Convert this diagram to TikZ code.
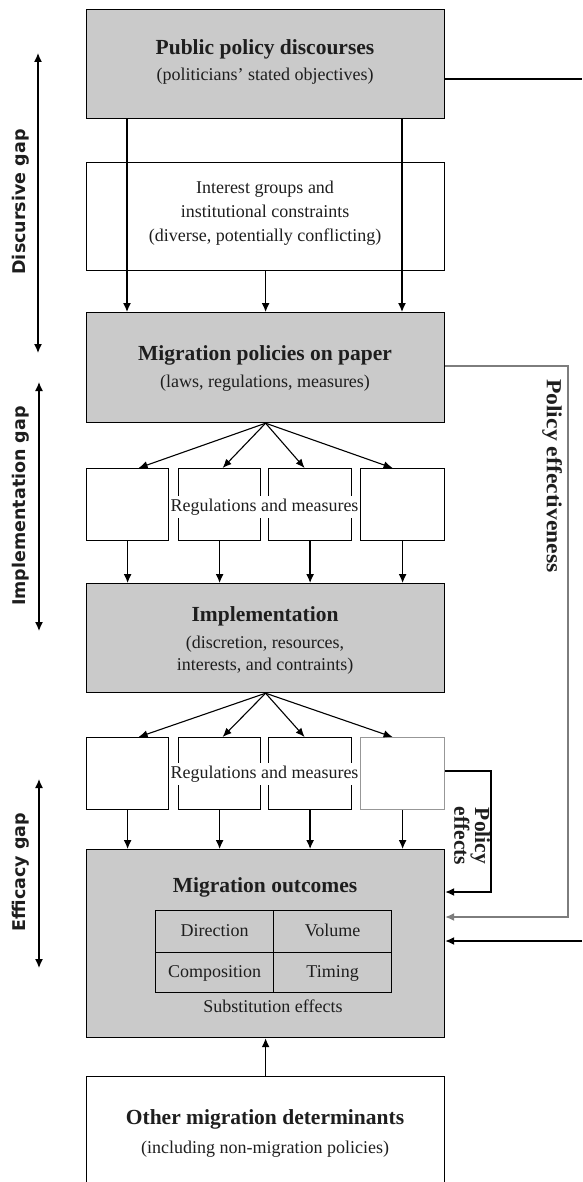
\documentclass[tikz,border=0pt]{standalone}
\usepackage{fontspec}
\setmainfont{Liberation Serif}
\newfontfamily\gapfont{DejaVu Sans}
\usetikzlibrary{arrows.meta,calc}
\definecolor{boxgray}{RGB}{202,202,202}
\definecolor{txt}{RGB}{30,30,30}
\definecolor{lgray}{RGB}{125,125,125}
\begin{document}
\begin{tikzpicture}[x=1pt,y=-1pt,
  gbox/.style={draw, fill=boxgray, line width=1.2pt, inner sep=0, anchor=north west},
  wbox/.style={draw, fill=white, line width=1.2pt, inner sep=0, anchor=north west},
  tcell/.style={draw, line width=1.2pt, inner sep=0, anchor=north west},
  tr/.style={font=\fontsize{18}{22}\selectfont, text=txt, anchor=base, inner sep=0},
  tb/.style={font=\fontsize{21.5}{26}\selectfont\bfseries, text=txt, anchor=base, inner sep=0},
  gaplbl/.style={font=\gapfont\fontsize{17.5}{20}\selectfont\bfseries, text=txt, rotate=90, inner sep=0},
  arr/.style={line width=1.3pt, -{Latex[length=9pt,width=8pt]}},
  fanarr/.style={line width=1.1pt, -{Latex[length=9pt,width=7.5pt]}},
  dbl/.style={line width=1.3pt, {Latex[length=9pt,width=8pt]}-{Latex[length=9pt,width=8pt]}},
  plain/.style={line width=1.3pt}]
\useasboundingbox (0,0) rectangle (582,1182);
\clip (0,0) rectangle (582,1182);

% boxes
\node[gbox, minimum width=358pt, minimum height=109pt] (disc) at (86,9) {};
\node[wbox, minimum width=358pt, minimum height=108pt] (inter) at (86,162) {};
\node[gbox, minimum width=358pt, minimum height=110pt] (paper) at (86,312) {};
\node[wbox, minimum width=82pt, minimum height=72pt] (r1a) at (86,468) {};
\node[wbox, minimum width=82pt, minimum height=72pt] (r1b) at (178,468) {};
\node[wbox, minimum width=83pt, minimum height=72pt] (r1c) at (268,468) {};
\node[wbox, minimum width=84pt, minimum height=72pt] (r1d) at (360,468) {};
\node[gbox, minimum width=358pt, minimum height=109pt] (impl) at (86,583) {};
\node[wbox, minimum width=82pt, minimum height=72pt] (r2a) at (86,737) {};
\node[wbox, minimum width=82pt, minimum height=72pt] (r2b) at (178,737) {};
\node[wbox, minimum width=83pt, minimum height=72pt] (r2c) at (268,737) {};
\node[wbox, draw=lgray!80, minimum width=84pt, minimum height=72pt] (r2d) at (360,737) {};
\node[gbox, minimum width=358pt, minimum height=188pt] (outc) at (86,849) {};
\node[tcell, minimum width=118pt, minimum height=42pt] (tdir) at (155,910) {};
\node[tcell, minimum width=118pt, minimum height=42pt] (tvol) at (273,910) {};
\node[tcell, minimum width=118pt, minimum height=40pt] (tcom) at (155,952) {};
\node[tcell, minimum width=118pt, minimum height=40pt] (ttim) at (273,952) {};
\node[wbox, minimum width=358pt, minimum height=140pt] (other) at (86,1076) {};

% texts
\node[tb] at (265,55) {Public policy discourses};
\node[tr] at (265,81) {(politicians' stated objectives)};
\node[tr] at (265,194) {Interest groups and};
\node[tr] at (265,218) {institutional constraints};
\node[tr] at (265,241) {(diverse, potentially conflicting)};
\node[tb] at (265,360) {Migration policies on paper};
\node[tr] at (265,387) {(laws, regulations, measures)};
\node[tb] at (265,621) {Implementation};
\node[tr] at (265,648) {(discretion, resources,};
\node[tr] at (265,670) {interests, and contraints)};
\node[tb] at (265,892) {Migration outcomes};
\node[tr] at (tdir.center |- 0,936) {Direction};
\node[tr] at (tvol.center |- 0,936) {Volume};
\node[tr] at (tcom.center |- 0,977) {Composition};
\node[tr] at (ttim.center |- 0,977) {Timing};
\node[tr] at (273,1012) {Substitution effects};
\node[tb] at (265,1124) {Other migration determinants};
\node[tr] at (265,1153) {(including non-migration policies)};

% connectors top
\coordinate (c1) at (127,0);
\coordinate (c2) at (402,0);
\draw[arr] (disc.south -| c1) -- (paper.north -| c1);
\draw[arr] (disc.south -| c2) -- (paper.north -| c2);
\draw[arr] (inter.south) -- (paper.north);

% fans
\foreach \b/\d in {a/11,b/3,c/-5.5,d/-10}{
  \draw[fanarr] (paper.south) -- ($(r1\b.north)+(\d,0)$);
  \draw[fanarr] (impl.south) -- ($(r2\b.north)+(\d,0)$);
  \draw[arr] (r1\b.south) -- (impl.north -| r1\b.south);
  \draw[arr] (r2\b.south) -- (outc.north -| r2\b.south);
}
\node[tr, fill=white, inner xsep=1.5pt, inner ysep=3pt] (reg1) at (264.5,511) {Regulations and measures};
\node[tr, fill=white, inner xsep=1.5pt, inner ysep=3pt] (reg2) at (264.5,778) {Regulations and measures};

\draw[arr] (other.north) -- (outc.south);

% right side
\coordinate (rt) at (582,79);
\coordinate (rb) at (582,941);
\draw[plain] (disc.east |- rt) -- (rt);
\draw[arr] (rb) -- (outc.east |- rb);
\coordinate (pe1) at (568,366);
\coordinate (pe2) at (568,917);
\draw[arr, draw=lgray] (paper.east |- pe1) -- (pe1) -- (pe2) -- (outc.east |- pe2);
\coordinate (pf1) at (491,771);
\coordinate (pf2) at (491,892);
\draw[arr] (r2d.east |- pf1) -- (pf1) -- (pf2) -- (outc.east |- pf2);
\node[font=\fontsize{21.5}{26}\selectfont\bfseries, text=txt, rotate=-90, inner sep=0] at (552,476) {\scalebox{1.1}[1]{Policy effectiveness}};
\node[font=\fontsize{21.5}{17}\selectfont\bfseries, text=txt, rotate=-90, inner sep=0, align=center] at (472,836) {Policy\\effects};

% gaps
\coordinate (d1) at (38,53); \coordinate (d2) at (38,353);
\coordinate (i1) at (39,382); \coordinate (i2) at (39,631);
\coordinate (e1) at (39,779); \coordinate (e2) at (39,968);
\draw[dbl] (d1) -- (d2);
\draw[dbl] (i1) -- (i2);
\draw[dbl] (e1) -- (e2);
\node[gaplbl] at (21,202) {Discursive gap};
\node[gaplbl] at (21,506) {Implementation gap};
\node[gaplbl] at (21,872) {Efficacy gap};
\end{tikzpicture}
\end{document}
